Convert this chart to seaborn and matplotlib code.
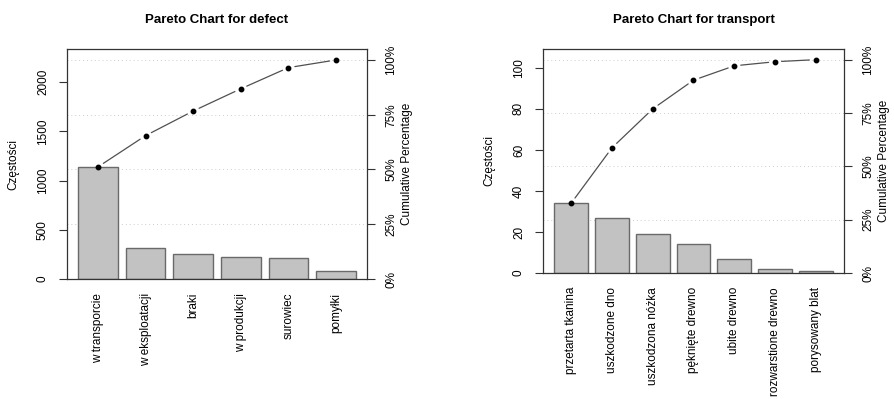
import numpy as np
import matplotlib
matplotlib.use("Agg")
import matplotlib.pyplot as plt
import seaborn as sns
from matplotlib.ticker import FixedLocator, FuncFormatter

# ---- data ----
defect_categories = ["w transporcie", "w eksploatacji", "braki", "w produkcji", "surowiec", "pomyłki"]
defect_counts = [1139, 318, 250, 226, 215, 78]
defect_yticks = [0, 500, 1000, 1500, 2000]

transport_categories = ["przetarta tkanina", "uszkodzone dno", "uszkodzona nóżka", "pęknięte drewno",
                        "ubite drewno", "rozwarstione drewno", "porysowany blat"]
transport_counts = [34, 27, 19, 14, 7, 2, 1]
transport_yticks = [0, 20, 40, 60, 80, 100]

pct_ticks = [0, 25, 50, 75, 100]

sns.set_theme(style="white")
plt.rcParams["font.family"] = ["Liberation Sans", "DejaVu Sans"]
plt.rcParams["text.color"] = "black"
plt.rcParams["axes.labelcolor"] = "black"
plt.rcParams["xtick.color"] = "black"
plt.rcParams["ytick.color"] = "black"

fig = plt.figure(figsize=(8.94, 3.99), dpi=100)
W, H = 894, 399

def box(x0, x1, ytop, ybot):
    return [x0 / W, (H - ybot) / H, (x1 - x0) / W, (ybot - ytop) / H]

ax1 = fig.add_axes(box(67, 367, 49, 279))
ax2 = fig.add_axes(box(543, 844, 49, 273))

BAR_FILL = "#C2C2C2"
BAR_EDGE = "#6A6A6A"
FS = 8.5


def pareto(ax, cats, counts, yticks, title):
    n = len(cats)
    counts = np.asarray(counts, dtype=float)
    total = counts.sum()
    cum = np.cumsum(counts)
    w = 1 / 1.2
    sns.barplot(x=cats, y=counts, order=cats, color=BAR_FILL, saturation=1,
                width=w, edgecolor=BAR_EDGE, linewidth=1.0, ax=ax, zorder=2)
    ext = 0.04 * (n - 1 / 6)
    ax.set_xlim(-w / 2 - ext, n - 1 + w / 2 + ext)
    ax.set_ylim(0, 1.05 * total)

    # dotted grid at percentage levels
    for p in pct_ticks:
        ax.axhline(total * p / 100, color="#CCCCCC", lw=0.7, ls=(0, (1, 3)), zorder=0)

    # cumulative line with gaps around points (like R type="b")
    xs = np.arange(n)
    pts = ax.transData.transform(np.column_stack([xs, cum]))
    gap = 6.5
    inv = ax.transData.inverted()
    for i in range(n - 1):
        a, b = pts[i], pts[i + 1]
        d = b - a
        L = np.hypot(*d)
        if L <= 2 * gap:
            continue
        u = d / L
        seg = inv.transform(np.vstack([a + u * gap, b - u * gap]))
        ax.plot(seg[:, 0], seg[:, 1], color="#505050", lw=0.9, zorder=3)
    ax.plot(xs, cum, ls="none", marker="o", ms=3.2, color="black", zorder=4)

    ax.yaxis.set_major_locator(FixedLocator(yticks))
    ax.tick_params(axis="y", which="major", length=6, width=0.8, color="#333333",
                   labelsize=FS, pad=7, left=True, labelrotation=90)
    for lab in ax.get_yticklabels():
        lab.set_va("center")
    ax.tick_params(axis="x", length=0, labelsize=FS, pad=10, labelrotation=90)
    ax.set_xlabel("")
    ax.set_ylabel("Częstości", fontsize=FS, labelpad=13)

    sec = ax.secondary_yaxis("right", functions=(lambda v: v / total * 100,
                                                 lambda p: p * total / 100))
    sec.yaxis.set_major_locator(FixedLocator(pct_ticks))
    sec.yaxis.set_major_formatter(FuncFormatter(lambda v, _: f"{v:.0f}%"))
    sec.tick_params(axis="y", length=6, width=0.8, color="#333333", labelsize=FS,
                    pad=7, labelrotation=90)
    for lab in sec.get_yticklabels():
        lab.set_va("center")
    sec.spines["right"].set_visible(False)
    sec.set_ylabel("Cumulative Percentage", fontsize=FS, labelpad=3, rotation=90)

    for s in ax.spines.values():
        s.set_visible(True)
        s.set_color("#333333")
        s.set_linewidth(0.9)
    ax.set_title(title, fontsize=9.5, fontweight="bold", pad=19)


pareto(ax1, defect_categories, defect_counts, defect_yticks, "Pareto Chart for defect")
pareto(ax2, transport_categories, transport_counts, transport_yticks, "Pareto Chart for transport")

fig.savefig("out.png", dpi=100)
